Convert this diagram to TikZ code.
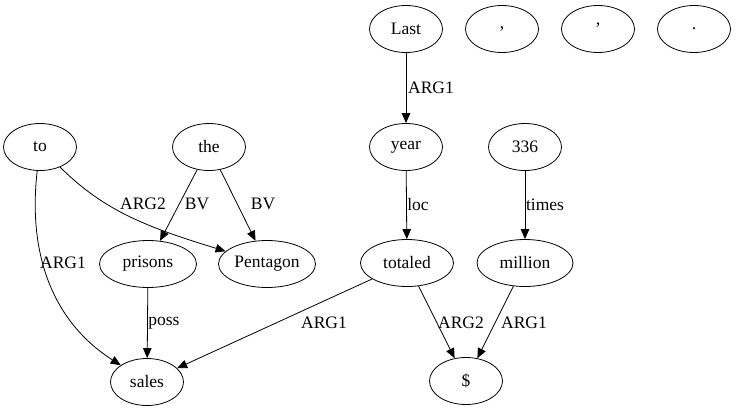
\documentclass[tikz,border=0pt]{standalone}
\usepackage{fontspec}
\setmainfont{Liberation Serif}
\usetikzlibrary{arrows.meta,shapes.geometric}

\begin{document}
\begin{tikzpicture}[x=1bp, y=-1bp,
        word/.style={draw, ellipse, line width=0.8bp, minimum width=73bp, minimum height=47bp, inner sep=0pt, font=\rmfamily\fontsize{17.5bp}{20bp}\selectfont},
        rel/.style={line width=0.8bp, -{Triangle[length=10bp, width=8.5bp]}},
        lbl/.style={inner sep=0pt, font=\rmfamily\fontsize{17.5bp}{20bp}\selectfont}]
        \useasboundingbox (0,0) rectangle (736,411);
        % top row
        \node[word] (last) at (406,29) {Last};
        \node[word] (comma) at (502,29) {,};
        \node[word] (apos) at (598,29) {'};
        \node[word] (stop) at (694,29) {.};
        % second row
        \node[word] (to) at (40,147) {to};
        \node[word] (the) at (209,147) {the};
        \node[word] (year) at (406,147) {year};
        \node[word] (n336) at (525,147) {336};
        % third row
        \node[word, minimum width=97bp] (prisons) at (148,264) {prisons};
        \node[word, minimum width=97bp] (pentagon) at (267,264) {Pentagon};
        \node[word, minimum width=93bp] (totaled) at (407,263) {totaled};
        \node[word, minimum width=96bp] (million) at (525,263) {million};
        % bottom row
        \node[word] (sales) at (147,382) {sales};
        \node[word] (dollar) at (466,381) {\$};

        \draw[rel] (last) -- (year);
        \draw[rel] (to) .. controls (28,250) and (50,320) .. (sales);
        \draw[rel] (to) .. controls (105,212) and (150,228) .. (pentagon);
        \draw[rel] (the) -- (prisons);
        \draw[rel] (the) -- (pentagon);
        \draw[rel] (prisons) -- (sales);
        \draw[rel] (year) -- (totaled);
        \draw[rel] (n336) -- (million);
        \draw[rel] (totaled) -- (sales);
        \draw[rel] (totaled) -- (dollar);
        \draw[rel] (million) -- (dollar);

        \node[lbl] (l1) at (431,88) {ARG1};
        \node[lbl] (l2) at (63,263) {ARG1};
        \node[lbl] (l3) at (143,204) {ARG2};
        \node[lbl] (l4) at (197,204) {BV};
        \node[lbl] (l5) at (263,204) {BV};
        \node[lbl] (l6) at (164,323) {poss};
        \node[lbl] (l7) at (324,323) {ARG1};
        \node[lbl] (l8) at (418,205) {loc};
        \node[lbl] (l9) at (545,205) {times};
        \node[lbl] (l10) at (461,323) {ARG2};
        \node[lbl] (l11) at (524,323) {ARG1};
    \end{tikzpicture}
\end{document}
